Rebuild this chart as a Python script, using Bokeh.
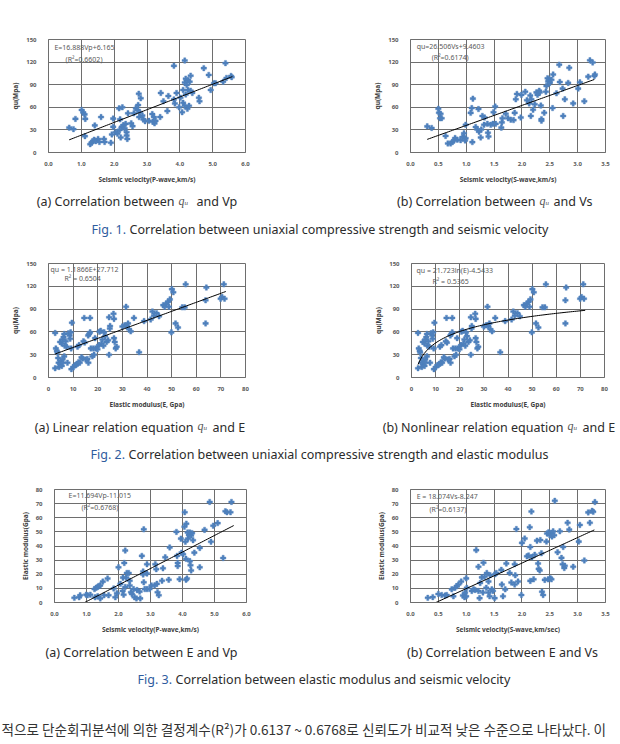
import numpy as np
from bokeh.plotting import figure
from bokeh.layouts import column, row
from bokeh.models import Range1d, FixedTicker, NumeralTickFormatter, Label
from bokeh.core.properties import value
from bokeh.embed import file_html
from bokeh.resources import INLINE

# ---------------- data ----------------
# Fig.1(a): qu vs Vp
vp_a = [0.63, 0.76, 0.82, 1.01, 1.06, 1.10, 1.12, 1.11, 1.41, 1.60,
        1.27, 1.31, 1.35, 1.39, 1.44, 1.51, 1.55, 1.69, 1.71, 1.90,
        1.93, 1.97, 1.97, 2.05, 2.10, 2.15, 2.25, 2.18, 2.17, 2.20,
        2.23, 2.28, 2.32, 2.35, 2.38, 2.38, 2.40, 2.42, 2.52, 2.56,
        2.60, 2.66, 2.71, 2.73, 2.75, 2.81, 2.78, 2.76, 2.86, 2.89,
        2.94, 3.06, 3.16, 3.21, 3.18, 3.23, 3.26, 3.40, 3.42, 3.50,
        3.62, 3.65, 3.82, 3.82, 3.85, 3.90, 3.98, 4.02, 4.10, 4.07,
        4.15, 4.15, 4.18, 4.21, 4.25, 4.30, 4.33, 4.25, 4.18, 4.10,
        4.15, 4.23, 4.28, 4.38, 4.33, 4.58, 4.60, 4.73, 4.88, 4.94,
        5.04, 5.09, 5.32, 5.39, 5.42, 5.56, 5.58]
qu_a = [33, 31, 44.6, 56.5, 53, 50.6, 44.6, 21.7, 36, 47,
        11, 13, 15, 17, 15, 18, 14, 18, 14, 13,
        24, 34, 45, 27, 25, 58.6, 60, 44, 30, 20,
        34, 36.5, 32, 38, 27, 22.5, 18, 52, 38.7, 35,
        52, 58.6, 56.5, 63, 78, 72, 53.5, 47, 49, 44,
        41.6, 42, 51, 47, 40.8, 38.7, 42, 47, 79, 68,
        55, 75, 115, 70.5, 65, 79, 60, 72.7, 66, 53.5,
        122, 93, 98, 89.7, 96, 94, 102, 83, 77, 83,
        62, 58, 62, 79, 82, 72.7, 68, 112, 103, 83,
        92, 92, 94, 118.6, 99, 101.6, 100]

# Fig.1(b): qu vs Vs
vs_b = [0.30, 0.38, 0.50, 0.51, 0.54, 0.53, 0.56, 0.63, 0.67, 0.72,
        0.75, 0.78, 0.80, 0.84, 0.90, 0.93, 0.96, 0.99, 0.98, 0.99,
        1.08, 1.10, 1.12, 1.11, 1.17, 1.20, 1.22, 1.23, 1.26, 1.27,
        1.29, 1.33, 1.32, 1.38, 1.39, 1.40, 1.44, 1.48, 1.49, 1.52,
        1.53, 1.63, 1.64, 1.65, 1.71, 1.75, 1.80, 1.85, 1.87, 1.89,
        1.91, 1.98, 1.99, 2.06, 2.09, 2.13, 2.15, 2.16, 2.17, 2.20,
        2.23, 2.26, 2.28, 2.31, 2.32, 2.34, 2.35, 2.35, 2.40, 2.43,
        2.44, 2.46, 2.47, 2.49, 2.50, 2.53, 2.55, 2.56, 2.62, 2.67,
        2.68, 2.73, 2.74, 2.77, 2.83, 2.85, 2.92, 3.01, 3.04, 3.12,
        3.19, 3.22, 3.27, 3.30, 3.31]
qu_b = [34.7, 32.6, 58, 52.7, 51.4, 45.5, 45.5, 22, 12, 12,
        13.8, 15.9, 19.2, 17, 16.3, 20.5, 25.5, 19, 16, 36.8,
        52.6, 59, 71.5, 13.8, 33.8, 30.5, 57.7, 27.6, 20, 30.5,
        48.5, 46.4, 36.8, 38, 26.3, 21.3, 36.8, 38, 53.5, 61,
        38, 33, 40, 45.5, 51.4, 45.5, 43.5, 43, 52.6, 70.6,
        77.7, 46.4, 76.5, 80.7, 69.4, 65.2, 75.6, 48.5, 70.6, 56.8,
        64, 79.8, 76.5, 82, 79.8, 62.3, 42.2, 44.3, 52.7, 80.7,
        88.2, 98.6, 94.4, 97.4, 92.4, 96.5, 59, 103.6, 78.6, 116.6,
        93.6, 84.8, 48.5, 70.6, 92.4, 112.4, 65.2, 84.8, 93.2, 68.1,
        100.7, 122.4, 119.5, 101.5, 103.6]

# Fig.2(a)/(b): qu vs E
e_c = [2.7, 2.7, 3.0, 3.4, 3.6, 3.9, 4.1, 4.3, 4.7, 5.0,
       5.4, 4.7, 5.4, 5.7, 6.1, 6.4, 6.6, 6.4, 5.7, 5.8,
       7.0, 7.4, 7.7, 8.1, 8.6, 8.8, 9.0, 9.2, 9.5, 9.3,
       10.1, 10.7, 11.2, 11.8, 12.2, 12.7, 11.8, 12.4, 13.4, 13.8,
       14.2, 14.5, 14.7, 15.1, 15.8, 16.1, 16.5, 16.2, 16.9, 16.9,
       17.2, 17.8, 18.2, 18.5, 18.9, 19.2, 19.9, 20.5, 20.7, 21.2,
       21.5, 21.9, 22.3, 22.6, 23.0, 23.6, 24.2, 24.6, 24.6, 24.9,
       25.0, 26.4, 26.6, 26.6, 26.9, 27.3, 27.7, 30.0, 30.9, 31.5,
       31.8, 32.3, 32.7, 33.4, 34.7, 36.8, 38.8, 41.5, 42.2, 42.8,
       43.9, 44.9, 46.6, 47.2, 47.8, 48.5, 48.9, 49.3, 49.9, 50.1,
       50.7, 51.6, 52.6, 54.3, 55.3, 55.7, 63.8, 63.8, 64.1, 69.9,
       70.5, 71.2, 71.5]
qu_c = [58.6, 12.2, 38.3, 35, 32.9, 25.7, 19.4, 13.9, 18.1, 21.5,
        15.2, 46.8, 44.7, 50.1, 53.1, 57.3, 41.7, 27.8, 23.6, 19.4,
        47.6, 40.5, 19.4, 58.2, 55.2, 51, 59.4, 38.3, 72.1, 11,
        13.9, 16, 16.4, 18.1, 20.2, 19.4, 40.5, 42.6, 26.5, 24.9,
        47.6, 78.4, 45.9, 23.6, 24.4, 55.2, 57.3, 19.4, 78.4, 59.4,
        38.3, 27.8, 38.3, 29.9, 51.8, 38.3, 37.1, 42.6, 60.3, 61.5,
        44.7, 50.1, 41.7, 59.4, 54.4, 46.8, 48.9, 79.2, 29.9, 64.5,
        67.8, 83.9, 77.1, 51.8, 46.8, 38.3, 40.5, 67, 68.7, 93.1,
        67.8, 71.2, 63.6, 60.7, 78.4, 33.3, 74.2, 76.3, 86.8, 81.3,
        84.7, 80.5, 95.2, 93.1, 97.3, 99.5, 93.1, 102.8, 59.4, 116.3,
        112.1, 71.2, 65.7, 92.3, 92.3, 122.6, 101.6, 71.2, 118.4, 103.7,
        105.8, 122.6, 103.7]

# Fig.3(a): E vs Vp
vp_e = [0.62, 0.77, 0.80, 0.99, 1.03, 1.12, 1.25, 1.30, 1.35, 1.38,
        1.43, 1.35, 1.27, 1.43, 1.51, 1.55, 1.66, 1.69, 1.85, 1.90,
        1.95, 2.00, 2.06, 2.13, 2.14, 2.16, 2.18, 2.21, 2.21, 2.24,
        2.26, 2.32, 2.35, 2.35, 2.39, 2.42, 2.47, 2.50, 2.56, 2.58,
        2.66, 2.68, 2.73, 2.77, 2.77, 2.79, 2.79, 2.82, 2.89, 2.89,
        2.89, 2.97, 3.03, 3.13, 3.15, 3.18, 3.20, 3.22, 3.26, 3.36,
        3.39, 3.46, 3.57, 3.60, 3.81, 3.83, 3.85, 3.85, 3.91, 3.95,
        3.97, 4.02, 4.06, 4.07, 4.09, 4.11, 4.11, 4.14, 4.12, 4.16,
        4.17, 4.20, 4.23, 4.23, 4.25, 4.27, 4.27, 4.30, 4.33, 4.37,
        4.54, 4.54, 4.69, 4.85, 4.89, 4.96, 5.10, 5.27, 5.34, 5.39,
        5.50, 5.53]
e_e = [3.3, 3.7, 5.1, 5.5, 5.1, 5.5, 9.5, 10.4, 11, 11.7,
       12.1, 4.4, 3.7, 2.9, 14.8, 5.1, 17, 5.1, 9.9, 3.7,
       6.6, 24.9, 13.2, 8.2, 17.6, 5.5, 28, 36.8, 11, 17.6,
       20.9, 20.9, 15.4, 12.1, 7.3, 6, 9.5, 3.7, 2.9, 8.8,
       7.7, 2.9, 33, 22, 19.8, 14.3, 51.8, 9.5, 9.5, 27.1,
       20.5, 9.5, 12.1, 12.1, 27.1, 23.6, 13.2, 7.3, 5.1, 15.4,
       24.2, 32, 16.1, 39, 50, 33, 28, 25.8, 16.5, 45.2,
       35.3, 34.2, 53.6, 63.9, 43, 30.9, 16.1, 17, 55.8, 49.6,
       45.2, 47.8, 49.6, 29.3, 26.4, 22.7, 47.4, 49.1, 44.1, 35.3,
       38.6, 24.9, 51.4, 71.2, 43, 54.4, 56.2, 31.5, 64.6, 63.9,
       63.9, 71.2]

# Fig.3(b): E vs Vs
vs_f = [0.31, 0.40, 0.50, 0.56, 0.62, 0.65, 0.74, 0.77, 0.80, 0.83,
        0.86, 0.91, 0.94, 0.97, 0.98, 1.00, 1.00, 1.01, 1.10, 1.13,
        1.16, 1.18, 1.22, 1.22, 1.24, 1.25, 1.28, 1.30, 1.31, 1.33,
        1.36, 1.37, 1.40, 1.40, 1.42, 1.43, 1.46, 1.48, 1.51, 1.52,
        1.54, 1.63, 1.64, 1.66, 1.70, 1.72, 1.78, 1.81, 1.87, 1.87,
        1.88, 1.90, 1.93, 1.99, 2.00, 2.05, 2.09, 2.12, 2.14, 2.15,
        2.15, 2.17, 2.18, 2.21, 2.23, 2.27, 2.29, 2.30, 2.32, 2.33,
        2.35, 2.36, 2.38, 2.41, 2.44, 2.45, 2.47, 2.48, 2.50, 2.51,
        2.53, 2.53, 2.54, 2.56, 2.58, 2.59, 2.64, 2.68, 2.71, 2.73,
        2.74, 2.76, 2.77, 2.82, 2.85, 2.92, 3.02, 3.04, 3.12, 3.19,
        3.22, 3.26, 3.28, 3.31]
e_f = [3.3, 3.8, 6, 5.3, 4.9, 5.3, 9.3, 4.4, 10.4, 11.6,
       12.7, 14.9, 4.9, 3.8, 7.1, 17.1, 4.4, 10.4, 8.2, 9.3,
       8.9, 37.1, 25.3, 8.2, 3.1, 13.8, 17.8, 7.1, 28.2, 18.2,
       10.4, 20.9, 7.1, 14.9, 4.4, 19.3, 9.3, 8.2, 3.1, 20,
       20.9, 23.1, 12.7, 4.4, 9.3, 27.6, 20.9, 14.2, 12.7, 27.1,
       19.3, 52, 14.9, 5.3, 42.2, 45.3, 32.7, 33.3, 53.3, 15.3,
       39.3, 64.4, 32, 16.4, 33.8, 43.8, 27.6, 23.8, 22.7, 44.2,
       34.9, 7.6, 5.3, 16, 43.1, 48.9, 16.4, 49.8, 47.6, 17.1,
       49.3, 16.4, 46.7, 50.4, 47.6, 72, 35.6, 50.4, 31.6, 27.1,
       39.3, 24.4, 26, 56.4, 51.6, 25.3, 43.1, 54.9, 29.8, 63.8,
       56.4, 64.9, 64.2, 71.1]

# regression equations shown in the charts: (slope, intercept, x-start, x-end)
fit_a = (16.888, 6.165, 0.63, 5.6)
fit_b = (26.506, 9.4603, 0.3, 3.3)
fit_c = (1.1866, 27.712, 2.7, 72.0)
fit_d = (21.723, -4.5433, 2.7, 72.0)   # logarithmic
fit_e = (11.694, -11.015, 0.942, 5.6)
fit_f = (18.074, -8.247, 0.456, 3.3)

eq_a = ["E=16.888Vp+6.165", "(R\u00b2=0.6602)"]
eq_b = ["qu=26.506Vs+9.4603", "(R\u00b2=0.6174)"]
eq_c = ["qu = 1.1866E+27.712", "R\u00b2 = 0.6504"]
eq_d = ["qu = 21.723ln(E)-4.5433", "R\u00b2 = 0.5365"]
eq_e = ["E=11.694Vp-11.015", "(R\u00b2=0.6768)"]
eq_f = ["E = 18.074Vs-8.247", "(R\u00b2=0.6137)"]

# ---------------- styles ----------------
GRID = "#6e6e6e"
PT = "#4f81bd"
AXF = "Noto Sans"
TICK_C = "#595959"
TITLE_C = "#404040"


def panel(xs, ys, xmax, xstep, ymax, ystep, xlabel, ylabel, fit, log_fit,
          eqs, eqpos, w, h, bl, br, bt, bb):
    p = figure(width=w, height=h, x_range=Range1d(0, xmax), y_range=Range1d(0, ymax),
               output_backend="svg", toolbar_location=None,
               min_border_left=bl, min_border_right=br, min_border_top=bt,
               min_border_bottom=bb, outline_line_color=GRID, outline_line_width=1,
               background_fill_color="white", border_fill_color="white")
    xt = [round(v, 3) for v in np.arange(0, xmax + 1e-9, xstep)]
    yt = [round(v, 3) for v in np.arange(0, ymax + 1e-9, ystep)]
    p.xaxis.ticker = FixedTicker(ticks=xt)
    p.yaxis.ticker = FixedTicker(ticks=yt)
    p.xgrid.ticker = FixedTicker(ticks=xt)
    p.ygrid.ticker = FixedTicker(ticks=yt)
    if xstep < 5:
        p.xaxis.formatter = NumeralTickFormatter(format="0.0")
    p.grid.grid_line_color = GRID
    p.grid.grid_line_width = 1
    for ax in (p.xaxis[0], p.yaxis[0]):
        ax.major_tick_line_color = None
        ax.minor_tick_line_color = None
        ax.axis_line_color = GRID
        ax.major_label_text_font = AXF
        ax.major_label_text_font_size = "6px"
        ax.major_label_text_font_style = "bold"
        ax.major_label_text_color = TICK_C
        ax.axis_label_text_font = AXF
        ax.axis_label_text_font_size = "6.5px"
        ax.axis_label_text_font_style = "bold"
        ax.axis_label_text_color = TITLE_C
    p.xaxis.axis_label = xlabel
    p.yaxis.axis_label = ylabel
    p.xaxis.major_label_standoff = 3
    p.yaxis.major_label_standoff = 6
    p.xaxis.axis_label_standoff = 6
    p.yaxis.axis_label_standoff = 3
    p.scatter(xs, ys, marker="plus", size=5.5, fill_color=PT, line_color=PT,
              line_width=0.4)
    k, c, x0, x1 = fit
    xx = np.linspace(x0, x1, 80)
    yy = k * np.log(xx) + c if log_fit else k * xx + c
    p.line(xx, yy, line_color="black", line_width=1)
    for t, (lx, ly) in zip(eqs, eqpos):
        p.add_layout(Label(x=lx, y=ly, text=t, text_font=AXF, text_font_size="7px",
                           text_color="#5a5a5a", text_baseline="middle"))
    return p


p1 = panel(vp_a, qu_a, 6, 1, 150, 30, "Seismic velocity(P-wave,km/s)", "qu(Mpa)",
           fit_a, False, eq_a, [(0.18, 140), (0.52, 123)], 310, 186, 48, 65, 39, 29)
p2 = panel(vs_b, qu_b, 3.5, 0.5, 150, 30, "Seismic velocity(S-wave,km/s)", "qu(Mpa)",
           fit_b, False, eq_b, [(0.11, 141), (0.38, 126)], 310, 186, 100, 15, 37, 29)
p3 = panel(e_c, qu_c, 80, 10, 150, 30, "Elastic modulus(E, Gpa)", "qu(Mpa)",
           fit_c, False, eq_c, [(0.8, 142), (6.5, 130)], 310, 171, 48, 65, 23, 29)
p4 = panel(e_c, qu_c, 80, 10, 150, 30, "Elastic modulus(E, Gpa)", "qu(Mpa)",
           fit_d, True, eq_d, [(2.1, 141), (8.7, 126)], 310, 171, 101, 16, 23, 28)
p5 = panel(vp_e, e_e, 6, 1, 80, 10, "Seismic velocity(P-wave,km/s)", "Elastic modulus(Gpa)",
           fit_e, False, eq_e, [(0.44, 76), (0.84, 67)], 310, 171, 54, 64, 24, 26)
p6 = panel(vs_f, e_f, 3.5, 0.5, 80, 10, "Seismic velocity(S-wave,km/sec)", "Elastic modulus(Gpa)",
           fit_f, False, eq_f, [(0.11, 75), (0.34, 66)], 310, 171, 100, 15, 24, 27)

# ---------------- captions ----------------
CAPF = "Noto Sans"
CAP_C = "#2b2b2b"
BLUE = "#2f5c9e"


def text_fig(h):
    p = figure(width=620, height=h, x_range=Range1d(0, 620), y_range=Range1d(h, 0),
               output_backend="svg", toolbar_location=None, x_axis_type=None,
               y_axis_type=None, min_border=0, outline_line_color=None,
               background_fill_color="white", border_fill_color="white")
    p.grid.visible = False
    return p


def put(p, x, y, s, size="12.5px", font=CAPF, color=CAP_C, align="left", style="normal"):
    p.text(x=[x], y=[y], text=[s], text_font=value(font), text_font_size=size,
           text_color=color, text_align=align, text_baseline="alphabetic",
           text_font_style=style)


def qu_sym(p, x, y):
    put(p, x, y - 1, "q", size="12px", font="Liberation Serif", style="italic", color="#555555")
    put(p, x + 6, y + 1, "u", size="7px", font="Liberation Serif", style="italic", color="#555555")


cap1 = ["(a) Correlation between", "and Vp", "(b) Correlation between", "and Vs",
        "Fig. 1.", "Correlation between uniaxial compressive strength and seismic velocity"]
cap2 = ["(a) Linear relation equation", "and E", "(b) Nonlinear relation equation", "and E",
        "Fig. 2.", "Correlation between uniaxial compressive strength and elastic modulus"]
cap3 = ["(a) Correlation between E and Vp", "(b) Correlation between E and Vs",
        "Fig. 3.", "Correlation between elastic modulus and seismic velocity"]
body = "\uc801\uc73c\ub85c \ub2e8\uc21c\ud68c\uadc0\ubd84\uc11d\uc5d0 \uc758\ud55c \uacb0\uc815\uacc4\uc218(R\u00b2)\uac00 0.6137 ~ 0.6768\ub85c \uc2e0\ub8b0\ub3c4\uac00 \ube44\uad50\uc801 \ub0ae\uc740 \uc218\uc900\uc73c\ub85c \ub098\ud0c0\ub0ac\ub2e4. \uc774"

c1 = text_fig(54)
put(c1, 174, 15, cap1[0], align="right")
qu_sym(c1, 178, 15)
put(c1, 196, 15, cap1[1])
put(c1, 535, 15, cap1[2], align="right")
qu_sym(c1, 539, 15)
put(c1, 553, 15, cap1[3])
put(c1, 91, 42.5, cap1[4], color=BLUE)
put(c1, 129, 42.5, cap1[5])

c2 = text_fig(54)
put(c2, 193, 15.5, cap2[0], align="right")
qu_sym(c2, 197, 15.5)
put(c2, 212, 15.5, cap2[1])
put(c2, 563, 15.5, cap2[2], align="right")
qu_sym(c2, 567, 15.5)
put(c2, 582, 15.5, cap2[3])
put(c2, 90, 42.5, cap2[4], color=BLUE)
put(c2, 128, 42.5, cap2[5])

c3 = text_fig(108)
put(c3, 141, 15.5, cap3[0], align="center")
put(c3, 502, 15.5, cap3[1], align="center")
put(c3, 137, 43, cap3[2], color=BLUE)
put(c3, 175, 43, cap3[3])
put(c3, 1, 92, body, size="13.6px", font="Noto Sans CJK KR", color="#333333")

layout = column(row(p1, p2, spacing=0), c1, row(p3, p4, spacing=0), c2,
                row(p5, p6, spacing=0), c3, spacing=0)

open("out.html", "w").write(file_html(layout, INLINE))
